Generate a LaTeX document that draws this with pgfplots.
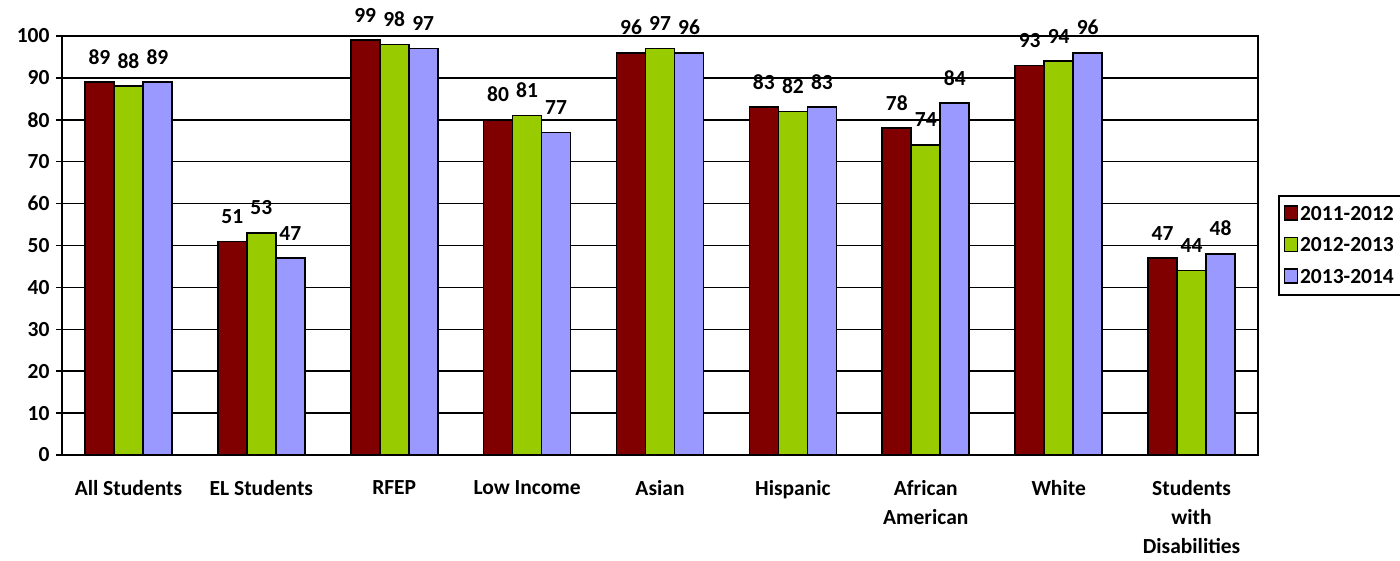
\documentclass[border=0pt]{standalone}
\usepackage{pgfplots}
\pgfplotsset{compat=1.18}
\usepackage{fontspec}
\setmainfont{Carlito}
\definecolor{cA}{HTML}{800000}
\definecolor{cB}{HTML}{99CC00}
\definecolor{cC}{HTML}{9999FF}
\begin{document}
\begin{tikzpicture}[x=1pt,y=1pt]
\useasboundingbox (0,0) rectangle (1400,560);
\begin{axis}[
  at={(62pt,105pt)}, anchor=south west,
  scale only axis, width=1196pt, height=419pt,
  ymin=0, ymax=100, xmin=-0.5, xmax=8.5,
  ybar=0pt, bar width=29pt,
  clip=false,
  axis line style={line width=1.6pt},
  ytick={0,10,...,100},
  ymajorgrids, grid style={black, line width=1.6pt},
  tick align=outside, tick pos=left,
  major tick length=6pt,
  tick style={black, line width=1.6pt},
  xtick={0,...,8},
  x tick style={draw=none},
  extra x ticks={-0.5,0.5,...,8.5},
  extra x tick labels={},
  extra x tick style={grid=none, tick style={draw=black, line width=1.6pt}, major tick length=7pt},
  xticklabels={All Students, EL Students, RFEP, Low Income, Asian, Hispanic, {African\\American}, White, {Students\\with\\Disabilities}},
  xticklabel style={align=center, font=\fontsize{21.5}{29}\selectfont\bfseries, yshift=-16pt},
  yticklabel style={font=\fontsize{21.5}{24}\selectfont\bfseries, xshift=-3pt},
  /pgf/number format/assume math mode=true,
  nodes near coords,
  every node near coord/.append style={font=\fontsize{21.5}{24}\selectfont\bfseries, anchor=base, yshift=18pt, black},
  legend style={at={(1.0167,0.5)}, anchor=west, draw=black, line width=1.6pt,
    font=\fontsize{21.5}{24}\selectfont\bfseries, row sep=12pt, inner xsep=5pt, inner ysep=8pt},
  legend cell align=left,
  legend image code/.code={\draw[#1,draw=black,line width=1.3pt] (0pt,-6pt) rectangle (13pt,8pt);},
]
\addplot[fill=cA, draw=black, line width=1.6pt] coordinates {(0,89) (1,51) (2,99) (3,80) (4,96) (5,83) (6,78) (7,93) (8,47)};
\addplot[fill=cB, draw=black, line width=1.6pt] coordinates {(0,88) (1,53) (2,98) (3,81) (4,97) (5,82) (6,74) (7,94) (8,44)};
\addplot[fill=cC, draw=black, line width=1.6pt] coordinates {(0,89) (1,47) (2,97) (3,77) (4,96) (5,83) (6,84) (7,96) (8,48)};
\legend{2011-2012, 2012-2013, 2013-2014}
\end{axis}
\end{tikzpicture}
\end{document}
